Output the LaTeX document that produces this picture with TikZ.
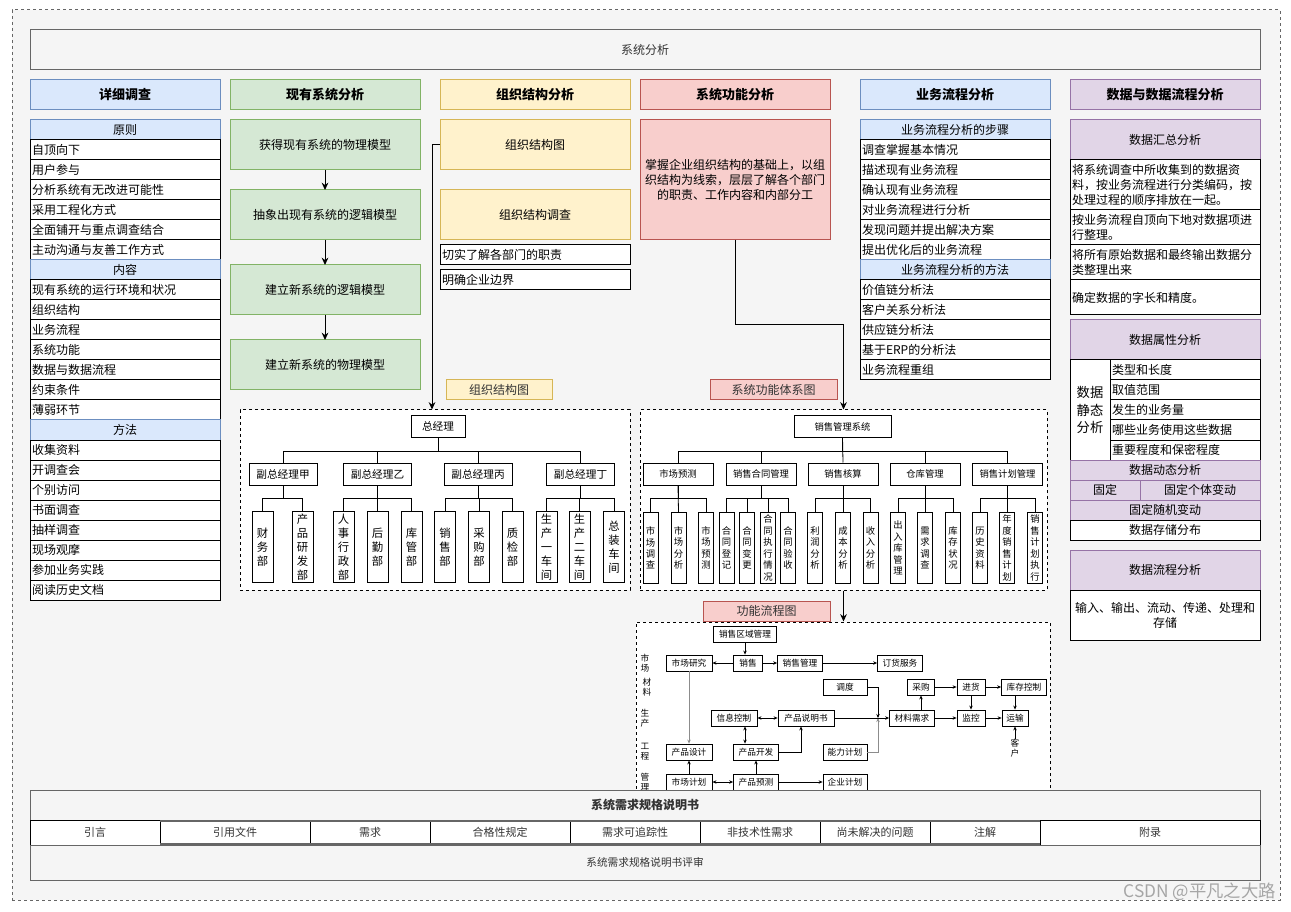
\documentclass[tikz,border=0pt]{standalone}
\usepackage{fontspec}
\setmainfont{Noto Sans CJK SC}
\usepackage{tikz}
\usepackage{xcolor}
\usetikzlibrary{arrows.meta, positioning, calc}
\definecolor{blueFill}{HTML}{DAE8FC}
\definecolor{blueLine}{HTML}{6C8EBF}
\definecolor{greenFill}{HTML}{D5E8D4}
\definecolor{greenLine}{HTML}{82B366}
\definecolor{yellowFill}{HTML}{FFF2CC}
\definecolor{yellowLine}{HTML}{D6B656}
\definecolor{redFill}{HTML}{F8CECC}
\definecolor{redLine}{HTML}{B85450}
\definecolor{purpleFill}{HTML}{E1D5E7}
\definecolor{purpleLine}{HTML}{9673A6}
\definecolor{paper}{HTML}{F5F5F5}
\definecolor{frameGray}{HTML}{666666}
\definecolor{inkGray}{HTML}{333333}
\tikzset{
  pageFrame/.style = {rectangle, draw=frameGray, fill=paper, line width=0.75pt,
    dash pattern=on 2.25pt off 2.25pt, minimum width=951pt, minimum height=667.5pt, inner sep=0pt},
  titleBar/.style = {rectangle, draw=frameGray, fill=paper, line width=0.75pt,
    minimum width=922.5pt, minimum height=30pt, inner sep=0pt, text=inkGray,
    font=\fontsize{9pt}{11pt}\selectfont},
  colHead/.style = {rectangle, line width=0.75pt, minimum width=142.5pt, minimum height=22.5pt,
    inner sep=0pt, font=\bfseries\fontsize{9.75pt}{11pt}\selectfont},
  listHead/.style = {rectangle, draw=blueLine, fill=blueFill, line width=0.75pt,
    minimum width=142.5pt, minimum height=15pt, inner sep=0pt, outer sep=0pt,
    font=\fontsize{9pt}{11pt}\selectfont},
  listItem/.style = {rectangle, draw=black, fill=white, line width=0.75pt, text width=139.5pt,
    align=left, inner xsep=1.5pt, inner ysep=0pt, minimum height=15pt, outer sep=0pt,
    font=\fontsize{9pt}{11pt}\selectfont},
  bigBox/.style = {rectangle, line width=0.75pt, minimum width=142.5pt, minimum height=37.5pt,
    inner sep=0pt, outer sep=0pt, align=center, font=\fontsize{9pt}{11.25pt}\selectfont},
  greenBox/.style = {bigBox, draw=greenLine, fill=greenFill},
  yellowBox/.style = {bigBox, draw=yellowLine, fill=yellowFill},
  redBox/.style = {bigBox, draw=redLine, fill=redFill, minimum height=90pt},
  purpleHead/.style = {bigBox, draw=purpleLine, fill=purpleFill, minimum height=30pt},
  purpleRow/.style = {listHead, draw=purpleLine, fill=purpleFill},
  dataText/.style = {listItem, font=\fontsize{9pt}{11.5pt}\selectfont},
  dataCenter/.style = {bigBox, draw=black, fill=white},
  subItem/.style = {listItem, text width=109.5pt},
  staticCell/.style = {rectangle, draw=black, fill=white, line width=0.75pt, minimum width=30pt,
    minimum height=75pt, inner sep=0pt, align=center, font=\fontsize{10pt}{13pt}\selectfont},
  chartFrame/.style = {rectangle, draw=black, fill=white, line width=0.75pt,
    dash pattern=on 2.25pt off 2.25pt, inner sep=0pt},
  tagYellow/.style = {rectangle, draw=yellowLine, fill=yellowFill, line width=0.75pt,
    minimum height=15pt, inner sep=0pt, text=inkGray, font=\fontsize{9pt}{11pt}\selectfont},
  tagRed/.style = {tagYellow, draw=redLine, fill=redFill},
  orgBox/.style = {rectangle, draw=black, fill=white, line width=0.75pt, inner sep=0pt,
    font=\fontsize{8pt}{10pt}\selectfont},
  vpBox/.style = {orgBox, minimum width=51pt, minimum height=16.5pt},
  orgLeaf/.style = {orgBox, anchor=north, minimum width=15.75pt, minimum height=53.25pt,
    align=center, font=\fontsize{8.5pt}{10.5pt}\selectfont},
  fnBox/.style = {orgBox, minimum width=52.5pt, minimum height=16.5pt, font=\fontsize{7pt}{9pt}\selectfont},
  fnLeaf/.style = {orgBox, anchor=north, minimum width=11.25pt, minimum height=53.25pt,
    align=center, font=\fontsize{7pt}{8.6pt}\selectfont},
  flowBox/.style = {rectangle, draw=black, fill=white, line width=0.6pt, minimum height=12pt,
    inner sep=0pt, font=\fontsize{6.5pt}{8pt}\selectfont},
  flowSide/.style = {align=center, inner sep=0pt, font=\fontsize{6.5pt}{7.5pt}\selectfont},
  specBar/.style = {rectangle, draw=frameGray, fill=paper, line width=0.75pt,
    minimum width=922.5pt, inner sep=0pt, text=inkGray},
  specCell/.style = {rectangle, draw=black, fill=white, line width=0.75pt, minimum height=18.75pt,
    inner sep=0pt, outer sep=0pt, text=inkGray, font=\fontsize{8.25pt}{10pt}\selectfont},
  specEdge/.style = {draw=frameGray, line width=1.5pt},
  watermarkText/.style = {text=black!35, inner sep=0pt, font=\fontsize{13pt}{15pt}\selectfont},
  treeLine/.style = {draw=black, line width=0.6pt},
  ok/.style = {-{Stealth[length=5.5pt, width=5pt]}, line width=0.75pt, draw=black},
  flowArrow/.style = {-{Stealth[length=3pt, width=2.6pt]}, line width=0.5pt, draw=black},
  flowBoth/.style = {{Stealth[length=3pt, width=2.6pt]}-{Stealth[length=3pt, width=2.6pt]},
    line width=0.5pt, draw=black},
}

\begin{document}
\begin{tikzpicture}[x=0.75pt, y=-0.75pt]
\useasboundingbox (0,0) rectangle (1291,912);

\node[pageFrame] (page) at (646,455) {};
\node[titleBar] (title) at (645,50) {系统分析};

\node[colHead, draw=blueLine, fill=blueFill] (hSurvey) at (125,95) {详细调查};
\node[colHead, draw=greenLine, fill=greenFill] (hExist) at (325,95) {现有系统分析};
\node[colHead, draw=yellowLine, fill=yellowFill] (hOrg) at (535,95) {组织结构分析};
\node[colHead, draw=redLine, fill=redFill] (hFunc) at (735,95) {系统功能分析};
\node[colHead, draw=blueLine, fill=blueFill] (hBiz) at (955,95) {业务流程分析};
\node[colHead, draw=purpleLine, fill=purpleFill] (hData) at (1165,95) {数据与数据流程分析};

% 详细调查
\node[listHead] (sPrin) at (125,130) {原则};
\node[listItem, below=0pt of sPrin] (sPrin1) {自顶向下};
\node[listItem, below=0pt of sPrin1] (sPrin2) {用户参与};
\node[listItem, below=0pt of sPrin2] (sPrin3) {分析系统有无改进可能性};
\node[listItem, below=0pt of sPrin3] (sPrin4) {采用工程化方式};
\node[listItem, below=0pt of sPrin4] (sPrin5) {全面铺开与重点调查结合};
\node[listItem, below=0pt of sPrin5] (sPrin6) {主动沟通与友善工作方式};
\node[listHead, below=0pt of sPrin6] (sCont) {内容};
\node[listItem, below=0pt of sCont] (sCont1) {现有系统的运行环境和状况};
\node[listItem, below=0pt of sCont1] (sCont2) {组织结构};
\node[listItem, below=0pt of sCont2] (sCont3) {业务流程};
\node[listItem, below=0pt of sCont3] (sCont4) {系统功能};
\node[listItem, below=0pt of sCont4] (sCont5) {数据与数据流程};
\node[listItem, below=0pt of sCont5] (sCont6) {约束条件};
\node[listItem, below=0pt of sCont6] (sCont7) {薄弱环节};
\node[listHead, below=0pt of sCont7] (sWay) {方法};
\node[listItem, below=0pt of sWay] (sWay1) {收集资料};
\node[listItem, below=0pt of sWay1] (sWay2) {开调查会};
\node[listItem, below=0pt of sWay2] (sWay3) {个别访问};
\node[listItem, below=0pt of sWay3] (sWay4) {书面调查};
\node[listItem, below=0pt of sWay4] (sWay5) {抽样调查};
\node[listItem, below=0pt of sWay5] (sWay6) {现场观摩};
\node[listItem, below=0pt of sWay6] (sWay7) {参加业务实践};
\node[listItem, below=0pt of sWay7] (sWay8) {阅读历史文档};

% 现有系统分析
\node[greenBox] (exist1) at (325,145) {获得现有系统的物理模型};
\node[greenBox, below=15pt of exist1] (exist2) {抽象出现有系统的逻辑模型};
\node[greenBox, below=18.75pt of exist2] (exist3) {建立新系统的逻辑模型};
\node[greenBox, below=18.75pt of exist3] (exist4) {建立新系统的物理模型};
\draw[ok] (exist1) -- (exist2);
\draw[ok] (exist2) -- (exist3);
\draw[ok] (exist3) -- (exist4);

% 组织结构分析
\node[yellowBox] (orgMap) at (535,145) {组织结构图};
\node[yellowBox, below=15pt of orgMap] (orgSurvey) {组织结构调查};
\node[listItem, below=3.75pt of orgSurvey] (orgDuty) {切实了解各部门的职责};
\node[listItem, below=3.75pt of orgDuty] (orgBound) {明确企业边界};

% 系统功能分析
\node[redBox] (funcText) at (735,180) {掌握企业组织结构的基础上，以组\\织结构为线索，层层了解各个部门\\的职责、工作内容和内部分工};

% 业务流程分析
\node[listHead] (bStep) at (955,130) {业务流程分析的步骤};
\node[listItem, below=0pt of bStep] (bStep1) {调查掌握基本情况};
\node[listItem, below=0pt of bStep1] (bStep2) {描述现有业务流程};
\node[listItem, below=0pt of bStep2] (bStep3) {确认现有业务流程};
\node[listItem, below=0pt of bStep3] (bStep4) {对业务流程进行分析};
\node[listItem, below=0pt of bStep4] (bStep5) {发现问题并提出解决方案};
\node[listItem, below=0pt of bStep5] (bStep6) {提出优化后的业务流程};
\node[listHead, below=0pt of bStep6] (bWay) {业务流程分析的方法};
\node[listItem, below=0pt of bWay] (bWay1) {价值链分析法};
\node[listItem, below=0pt of bWay1] (bWay2) {客户关系分析法};
\node[listItem, below=0pt of bWay2] (bWay3) {供应链分析法};
\node[listItem, below=0pt of bWay3] (bWay4) {基于ERP的分析法};
\node[listItem, below=0pt of bWay4] (bWay5) {业务流程重组};

% 数据与数据流程分析
\node[purpleHead] (dSum) at (1165,140) {数据汇总分析};
\node[dataText, minimum height=37.5pt, below=0pt of dSum] (dSum1) {将系统调查中所收集到的数据资\\料，按业务流程进行分类编码，按\\处理过程的顺序排放在一起。};
\node[dataText, minimum height=26.25pt, below=0pt of dSum1] (dSum2) {按业务流程自顶向下地对数据项进\\行整理。};
\node[dataText, minimum height=26.25pt, below=0pt of dSum2] (dSum3) {将所有原始数据和最终输出数据分\\类整理出来};
\node[dataText, minimum height=26.25pt, below=0pt of dSum3] (dSum4) {确定数据的字长和精度。};
\node[purpleHead] (dAttr) at (1165,340) {数据属性分析};
\node[staticCell] (dStatic) at (1090,410) {数据\\静态\\分析};
\node[subItem, anchor=north west] (dType) at (1110,360) {类型和长度};
\node[subItem, below=0pt of dType] (dRange) {取值范围};
\node[subItem, below=0pt of dRange] (dVolume) {发生的业务量};
\node[subItem, below=0pt of dVolume] (dUser) {哪些业务使用这些数据};
\node[subItem, below=0pt of dUser] (dSecret) {重要程度和保密程度};
\node[purpleRow] (dDyn) at (1165,470) {数据动态分析};
\node[purpleRow, minimum width=52.5pt, anchor=north west] (dFix) at (1070,480) {固定};
\node[purpleRow, minimum width=90pt, right=0pt of dFix] (dFixInd) {固定个体变动};
\node[purpleRow] (dFixRand) at (1165,510) {固定随机变动};
\node[dataCenter, minimum height=15pt, below=0pt of dFixRand] (dStore) {数据存储分布};
\node[purpleHead] (dFlow) at (1165,570) {数据流程分析};
\node[dataCenter, below=0pt of dFlow] (dFlowText) {输入、输出、流动、传递、处理和\\存储};

% 组织结构图
\node[tagYellow, minimum width=79.5pt] (orgTag) at (499,390) {组织结构图};
\node[chartFrame, minimum width=292.5pt, minimum height=135pt] (orgFrame) at (435,500) {};
\draw[ok] (orgMap.west) -- ++(-8,0) coordinate (orgTurn) -- (orgTurn |- orgFrame.north);

\node[orgBox, minimum width=40.5pt, minimum height=15.75pt] (gm) at (438,426.5) {总经理};
\node[vpBox] (vpA) at (283,474) {副总经理甲};
\node[vpBox] (vpB) at (377.5,474) {副总经理乙};
\node[vpBox] (vpC) at (478,474) {副总经理丙};
\node[vpBox] (vpD) at (580.5,474) {副总经理丁};
\node[orgLeaf] (oFin) at (262.5,511) {财\\务\\部};
\node[orgLeaf] (oRnd) at (302.5,511) {产\\品\\研\\发\\部};
\node[orgLeaf] (oHr) at (343.5,511) {人\\事\\行\\政\\部};
\node[orgLeaf] (oLog) at (377.5,511) {后\\勤\\部};
\node[orgLeaf] (oWare) at (411.5,511) {库\\管\\部};
\node[orgLeaf] (oSale) at (445,511) {销\\售\\部};
\node[orgLeaf] (oBuy) at (479,511) {采\\购\\部};
\node[orgLeaf] (oQc) at (512.5,511) {质\\检\\部};
\node[orgLeaf] (oWs1) at (546.5,511) {生\\产\\一\\车\\间};
\node[orgLeaf] (oWs2) at (579.5,511) {生\\产\\二\\车\\间};
\node[orgLeaf] (oAsm) at (614,511) {总\\装\\车\\间};
\draw[treeLine] (gm.south) -- ++(0,14) -| (vpA.north);
\draw[treeLine] (gm.south) -- ++(0,14) -| (vpB.north);
\draw[treeLine] (gm.south) -- ++(0,14) -| (vpC.north);
\draw[treeLine] (gm.south) -- ++(0,14) -| (vpD.north);
\draw[treeLine] (vpA.south) -- ++(0,13) -| (oFin.north);
\draw[treeLine] (vpA.south) -- ++(0,13) -| (oRnd.north);
\draw[treeLine] (vpB.south) -- ++(0,13) -| (oHr.north);
\draw[treeLine] (vpB.south) -- (oLog.north);
\draw[treeLine] (vpB.south) -- ++(0,13) -| (oWare.north);
\draw[treeLine] (vpC.south) -- ++(0,13) -| (oSale.north);
\draw[treeLine] (vpC.south) -- ++(0,13) -| (oBuy.north);
\draw[treeLine] (vpC.south) -- ++(0,13) -| (oQc.north);
\draw[treeLine] (vpD.south) -- ++(0,13) -| (oWs1.north);
\draw[treeLine] (vpD.south) -- ++(0,13) -| (oWs2.north);
\draw[treeLine] (vpD.south) -- ++(0,13) -| (oAsm.north);

% 系统功能体系图
\node[tagRed, minimum width=95.25pt] (funcTag) at (773.5,390) {系统功能体系图};
\node[chartFrame, minimum width=305.25pt, minimum height=135pt] (funcFrame) at (843.5,500) {};
\draw[ok] (funcText.south) -- ++(0,85) -| (funcFrame.north);

\node[orgBox, minimum width=72.75pt, minimum height=15.75pt, font=\fontsize{7pt}{9pt}\selectfont] (sys) at (842.5,426.5) {销售管理系统};
\node[fnBox] (fnMkt) at (678,474) {市场预测};
\node[fnBox] (fnCon) at (761,474) {销售合同管理};
\node[fnBox] (fnAcc) at (843,474) {销售核算};
\node[fnBox] (fnWh) at (925,474) {仓库管理};
\node[fnBox] (fnPlan) at (1007.5,474) {销售计划管理};
\node[fnLeaf] (lMkt1) at (650.5,512) {市\\场\\调\\查};
\node[fnLeaf] (lMkt2) at (678.5,512) {市\\场\\分\\析};
\node[fnLeaf] (lMkt3) at (706,512) {市\\场\\预\\测};
\node[fnLeaf] (lCon1) at (726.5,512) {合\\同\\登\\记};
\node[fnLeaf] (lCon2) at (747,512) {合\\同\\变\\更};
\node[fnLeaf] (lCon3) at (768,512) {合\\同\\执\\行\\情\\况};
\node[fnLeaf] (lCon4) at (788,512) {合\\同\\验\\收};
\node[fnLeaf] (lAcc1) at (815,512) {利\\润\\分\\析};
\node[fnLeaf] (lAcc2) at (843,512) {成\\本\\分\\析};
\node[fnLeaf] (lAcc3) at (870.5,512) {收\\入\\分\\析};
\node[fnLeaf] (lWh1) at (898,512) {出\\入\\库\\管\\理};
\node[fnLeaf] (lWh2) at (925,512) {需\\求\\调\\查};
\node[fnLeaf] (lWh3) at (953,512) {库\\存\\状\\况};
\node[fnLeaf] (lPlan1) at (980,512) {历\\史\\资\\料};
\node[fnLeaf] (lPlan2) at (1007,512) {年\\度\\销\\售\\计\\划};
\node[fnLeaf] (lPlan3) at (1035,512) {销\\售\\计\\划\\执\\行};
\draw[treeLine] (sys.south) -- ++(0,14) -| (fnMkt.north);
\draw[treeLine] (sys.south) -- ++(0,14) -| (fnCon.north);
\draw[treeLine] (sys.south) -- (fnAcc.north);
\draw[treeLine] (sys.south) -- ++(0,14) -| (fnWh.north);
\draw[treeLine] (sys.south) -- ++(0,14) -| (fnPlan.north);
\draw[treeLine] (fnMkt.south) -- ++(0,13) -| (lMkt1.north);
\draw[treeLine] (fnMkt.south) -- (lMkt2.north);
\draw[treeLine] (fnMkt.south) -- ++(0,13) -| (lMkt3.north);
\draw[treeLine] (fnCon.south) -- ++(0,13) -| (lCon1.north);
\draw[treeLine] (fnCon.south) -- ++(0,13) -| (lCon2.north);
\draw[treeLine] (fnCon.south) -- ++(0,13) -| (lCon3.north);
\draw[treeLine] (fnCon.south) -- ++(0,13) -| (lCon4.north);
\draw[treeLine] (fnAcc.south) -- ++(0,13) -| (lAcc1.north);
\draw[treeLine] (fnAcc.south) -- (lAcc2.north);
\draw[treeLine] (fnAcc.south) -- ++(0,13) -| (lAcc3.north);
\draw[treeLine] (fnWh.south) -- ++(0,13) -| (lWh1.north);
\draw[treeLine] (fnWh.south) -- (lWh2.north);
\draw[treeLine] (fnWh.south) -- ++(0,13) -| (lWh3.north);
\draw[treeLine] (fnPlan.south) -- ++(0,13) -| (lPlan1.north);
\draw[treeLine] (fnPlan.south) -- ++(0,13) -| (lPlan2.north);
\draw[treeLine] (fnPlan.south) -- ++(0,13) -| (lPlan3.north);

% 功能流程图
\node[tagRed, minimum width=95.25pt] (flowTag) at (766.5,611) {功能流程图};
\node[chartFrame, minimum width=310.5pt, minimum height=133.5pt] (flowFrame) at (843,711) {};
\draw[ok] (funcFrame.south) -- (funcFrame.south |- flowFrame.north);

\node[flowSide] (sideMkt) at (645,663) {市\\场};
\node[flowSide] (sideMat) at (647,687) {材\\料};
\node[flowSide] (sideProd) at (645,718) {生\\产};
\node[flowSide] (sideEng) at (645,752) {工\\程};
\node[flowSide] (sideMgmt) at (645,782) {管\\理};
\node[flowBox, minimum width=47.25pt] (flRegion) at (745,634) {销售区域管理};
\node[flowBox, minimum width=34.5pt] (flResearch) at (689,663) {市场研究};
\node[flowBox, minimum width=21.75pt] (flSales) at (748,663) {销售};
\node[flowBox, minimum width=33.75pt] (flSalesMgmt) at (800,663) {销售管理};
\node[flowBox, minimum width=33.75pt] (flOrder) at (900,663) {订货服务};
\node[flowBox, minimum width=33pt] (flDispatch) at (845,687) {调度};
\node[flowBox, minimum width=20.25pt] (flPurchase) at (921,687) {采购};
\node[flowBox, minimum width=21pt] (flStockIn) at (971,687) {进货};
\node[flowBox, minimum width=33.75pt] (flStock) at (1024,687) {库存控制};
\node[flowBox, minimum width=34.5pt] (flInfo) at (734,718) {信息控制};
\node[flowBox, minimum width=42pt] (flSpec) at (806,718) {产品说明书};
\node[flowBox, minimum width=33.75pt] (flMaterial) at (912,718) {材料需求};
\node[flowBox, minimum width=21pt] (flMonitor) at (971,718) {监控};
\node[flowBox, minimum width=19.5pt] (flTransport) at (1015,718) {运输};
\node[flowSide] (flCustomer) at (1015,748) {客\\户};
\node[flowBox, minimum width=34.5pt] (flDesign) at (689,752) {产品设计};
\node[flowBox, minimum width=33.75pt] (flDevelop) at (756,752) {产品开发};
\node[flowBox, minimum width=33pt] (flCapacity) at (845,752) {能力计划};
\node[flowBox, minimum width=34.5pt] (flMktPlan) at (689,782) {市场计划};
\node[flowBox, minimum width=33.75pt] (flForecast) at (756,782) {产品预测};
\node[flowBox, minimum width=33pt] (flCorp) at (845,782) {企业计划};
\coordinate (flJoin) at (878,718);

\draw[flowArrow] (flRegion.south) -- (flRegion.south |- flSales.north);
\draw[flowArrow] (flSales) -- (flResearch);
\draw[flowArrow] (flSales) -- (flSalesMgmt);
\draw[flowArrow] (flSalesMgmt) -- (flOrder);
\draw[flowArrow, draw=black!45] (flResearch) -- (flDesign);
\draw[flowArrow] (flDispatch.east) -| (flJoin);
\draw[flowArrow, draw=black!45] (flCapacity.east) -| (flJoin);
\draw[flowArrow] (flSpec) -- (flMaterial);
\draw[flowArrow] (flPurchase.south |- flMaterial.north) -- (flPurchase.south);
\draw[flowArrow] (flPurchase) -- (flStockIn);
\draw[flowArrow] (flStockIn) -- (flStock);
\draw[flowArrow] (flStockIn) -- (flMonitor);
\draw[flowArrow] (flTransport.north |- flStock.south) -- (flTransport.north);
\draw[flowArrow] (flMaterial) -- (flMonitor);
\draw[flowArrow] (flMonitor) -- (flTransport);
\draw[flowArrow] (flCustomer) -- (flTransport);
\draw[flowBoth] (flInfo) -- (flSpec);
\draw[flowBoth] ([xshift=8.25pt]flInfo.south) -- ([xshift=8.25pt]flInfo.south |- flDevelop.north);
\draw[flowArrow] (flDevelop.east) -| ([xshift=-3.75pt]flSpec.south);
\draw[flowArrow] (flForecast) -- (flDevelop);
\draw[flowArrow] (flMktPlan) -- (flDesign);
\draw[flowBoth] (flMktPlan) -- (flForecast);
\draw[flowArrow] (flForecast) -- (flCorp);

% 系统需求规格说明书
\node[specBar, minimum height=22.5pt, font=\bfseries\fontsize{9pt}{11pt}\selectfont] (spec) at (645,805) {系统需求规格说明书};
\node[specCell, minimum width=97.5pt, anchor=north west] (sIntro) at (30,820) {引言};
\node[specCell, minimum width=112.5pt, right=0pt of sIntro] (sRef) {引用文件};
\node[specCell, minimum width=90pt, right=0pt of sRef] (sReq) {需求};
\node[specCell, minimum width=105pt, right=0pt of sReq] (sQual) {合格性规定};
\node[specCell, minimum width=97.5pt, right=0pt of sQual] (sTrace) {需求可追踪性};
\node[specCell, minimum width=90pt, right=0pt of sTrace] (sNonTech) {非技术性需求};
\node[specCell, minimum width=82.5pt, right=0pt of sNonTech] (sOpen) {尚未解决的问题};
\node[specCell, minimum width=82.5pt, right=0pt of sOpen] (sNote) {注解};
\node[specCell, minimum width=165pt, right=0pt of sNote] (sAppx) {附录};
\draw[specEdge] ([yshift=-0.75pt]sRef.north west) -- ([yshift=-0.75pt]sNote.north east);
\draw[specEdge] ([yshift=0.75pt]sRef.south west) -- ([yshift=0.75pt]sNote.south east);
\node[specBar, minimum height=26.25pt, font=\fontsize{8pt}{10pt}\selectfont] (review) at (645,862.5) {系统需求规格说明书评审};

\node[watermarkText, anchor=east] (csdn) at (1276,892) {CSDN @平凡之大路};

\end{tikzpicture}
\end{document}
